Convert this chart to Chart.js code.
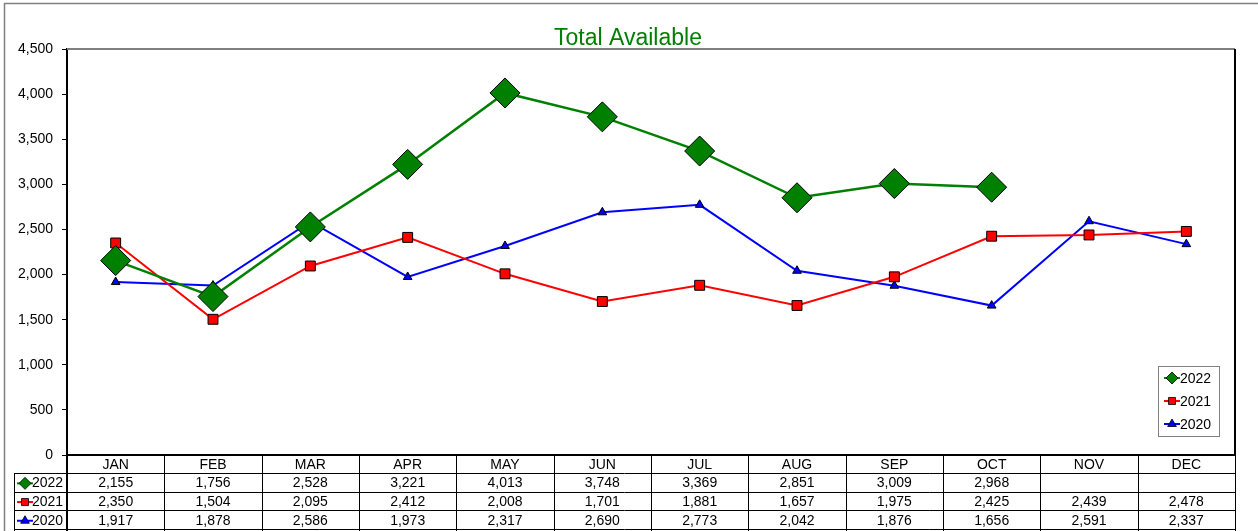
<!DOCTYPE html>
<html>
<head>
<meta charset="utf-8">
<script src="https://cdn.jsdelivr.net/npm/chart.js@4"></script>
<style>
  html, body { margin: 0; padding: 0; background: #fff; }
  canvas { display: block; }
</style>
</head>
<body>
<canvas id="grafico" width="1258" height="531"></canvas>
<script>
var meses = ['JAN', 'FEB', 'MAR', 'APR', 'MAY', 'JUN', 'JUL', 'AUG', 'SEP', 'OCT', 'NOV', 'DEC'];
var anos = ['2022', '2021', '2020'];
var total2022 = [2155, 1756, 2528, 3221, 4013, 3748, 3369, 2851, 3009, 2968, null, null];
var total2021 = [2350, 1504, 2095, 2412, 2008, 1701, 1881, 1657, 1975, 2425, 2439, 2478];
var total2020 = [1917, 1878, 2586, 1973, 2317, 2690, 2773, 2042, 1876, 1656, 2591, 2337];
var yTicks = [0, 500, 1000, 1500, 2000, 2500, 3000, 3500, 4000, 4500];

var fonte = '"Liberation Sans", Arial, sans-serif';
var cores = ['#008000', '#ff0000', '#0000ff'];
var estilos = ['rectRot', 'rect', 'triangle'];
var raios = [15, 7, 5];
var series = [total2022, total2021, total2020];

function fmt(v) {
    if (v === null || v === undefined) return '';
    return v.toLocaleString('en-US');
}

// desenha moldura, titulo, legenda e tabela de dados
var extras = {
    id: 'extras',
    beforeDraw: function (chart) {
        var ctx = chart.ctx;
        ctx.save();
        ctx.fillStyle = '#fff';
        ctx.fillRect(0, 0, chart.width, chart.height);
        ctx.strokeStyle = '#808080';
        ctx.lineWidth = 1.5;
        ctx.beginPath();
        ctx.moveTo(4.5, chart.height);
        ctx.lineTo(4.5, 3.5);
        ctx.lineTo(chart.width, 3.5);
        ctx.stroke();
        ctx.restore();
    },
    afterDraw: function (chart) {
        var ctx = chart.ctx;
        var area = chart.chartArea;
        var x = chart.scales.x;
        ctx.save();

        // bordas do grafico
        ctx.strokeStyle = '#808080';
        ctx.lineWidth = 2;
        ctx.beginPath();
        ctx.moveTo(area.left, area.top);
        ctx.lineTo(area.right, area.top);
        ctx.stroke();
        ctx.strokeStyle = '#000';
        ctx.lineWidth = 2;
        ctx.beginPath();
        ctx.moveTo(area.right, area.top);
        ctx.lineTo(area.right, area.bottom);
        ctx.moveTo(area.left - 1, area.bottom);
        ctx.lineTo(area.right + 1, area.bottom);
        ctx.stroke();

        // titulo
        ctx.fillStyle = '#008000';
        ctx.font = '23px ' + fonte;
        ctx.textAlign = 'center';
        ctx.textBaseline = 'alphabetic';
        ctx.fillText('Total Available', 628, 45);

        // tabela
        var colW = (area.right - area.left) / meses.length;
        var rowTop = area.bottom;
        var hdrH = 18;
        var rowH = 18.7;
        var labelL = 14;
        ctx.strokeStyle = '#000';
        ctx.lineWidth = 1;
        ctx.beginPath();
        for (var k = 1; k <= meses.length; k++) {
            var cx = Math.round(area.left + k * colW) + 0.5;
            ctx.moveTo(cx, rowTop);
            ctx.lineTo(cx, chart.height);
        }
        ctx.moveTo(labelL + 0.5, rowTop + hdrH);
        ctx.lineTo(labelL + 0.5, chart.height);
        for (var r = 0; r <= anos.length; r++) {
            var ry = Math.round(rowTop + hdrH + r * rowH) + 0.5;
            ctx.moveTo(labelL, ry);
            ctx.lineTo(area.right, ry);
        }
        ctx.stroke();
        ctx.lineWidth = 2;
        ctx.beginPath();
        ctx.moveTo(area.left, rowTop);
        ctx.lineTo(area.left, chart.height);
        ctx.stroke();

        ctx.fillStyle = '#000';
        ctx.font = '14px ' + fonte;
        ctx.textAlign = 'center';
        ctx.textBaseline = 'middle';
        for (var i = 0; i < meses.length; i++) {
            var px = x.getPixelForValue(i);
            ctx.fillText(meses[i], px, rowTop + hdrH / 2 + 1);
            for (var s = 0; s < series.length; s++) {
                ctx.fillText(fmt(series[s][i]), px, rowTop + hdrH + s * rowH + rowH / 2 + 1);
            }
        }
        for (var s2 = 0; s2 < anos.length; s2++) {
            var yy = rowTop + hdrH + s2 * rowH + rowH / 2 + 1;
            desenhaAmostra(ctx, s2, labelL + 3, yy, 2);
            ctx.fillStyle = '#000';
            ctx.textAlign = 'left';
            ctx.fillText(anos[s2], labelL + 18, yy);
        }

        // legenda
        var lx = 1158, ly = 366, lw = 61, lh = 70;
        ctx.fillStyle = '#fff';
        ctx.fillRect(lx, ly, lw, lh);
        ctx.strokeStyle = '#808080';
        ctx.lineWidth = 1;
        ctx.strokeRect(lx + 0.5, ly + 0.5, lw, lh);
        for (var s3 = 0; s3 < anos.length; s3++) {
            var ly2 = ly + 12 + s3 * 23;
            desenhaAmostra(ctx, s3, lx + 6, ly2, 2);
            ctx.fillStyle = '#000';
            ctx.font = '14px ' + fonte;
            ctx.textAlign = 'left';
            ctx.textBaseline = 'middle';
            ctx.fillText(anos[s3], lx + 22, ly2 + 1);
        }
        ctx.restore();
    }
};

function desenhaAmostra(ctx, s, x0, y, lw) {
    ctx.strokeStyle = cores[s];
    ctx.lineWidth = lw;
    ctx.beginPath();
    ctx.moveTo(x0, y);
    ctx.lineTo(x0 + 16, y);
    ctx.stroke();
    ctx.fillStyle = cores[s];
    ctx.strokeStyle = '#000';
    ctx.lineWidth = 0.8;
    Chart.helpers.drawPoint(ctx, {
        pointStyle: estilos[s],
        radius: s === 0 ? 6 : 5,
        borderWidth: 0.8
    }, x0 + 8, y);
}

var datasets = [];
for (var d = 0; d < anos.length; d++) {
    datasets.push({
        label: anos[d],
        data: series[d],
        borderColor: cores[d],
        backgroundColor: cores[d],
        borderWidth: d === 0 ? 2.5 : 2,
        pointStyle: estilos[d],
        pointRadius: raios[d],
        pointBorderColor: '#000',
        pointBorderWidth: 1,
        pointBackgroundColor: cores[d],
        tension: 0,
        spanGaps: false
    });
}

var grafico = new Chart(document.getElementById('grafico').getContext('2d'), {
    type: 'line',
    data: { labels: meses, datasets: datasets },
    plugins: [extras],
    options: {
        responsive: false,
        animation: false,
        devicePixelRatio: 1,
        layout: { padding: { left: 0, top: 49, right: 23, bottom: 76 } },
        plugins: {
            legend: { display: false },
            title: { display: false },
            tooltip: { enabled: false }
        },
        scales: {
            x: {
                display: false,
                offset: true
            },
            y: {
                min: 0,
                max: 4500,
                afterFit: function (scale) { scale.width = 67; },
                afterBuildTicks: function (scale) {
                    scale.ticks = yTicks.map(function (v) { return { value: v }; });
                },
                ticks: {
                    color: '#000',
                    padding: 9,
                    font: { family: fonte, size: 14 },
                    callback: function (v) { return fmt(v); }
                },
                grid: {
                    drawOnChartArea: false,
                    drawTicks: true,
                    tickLength: 5,
                    color: '#000'
                },
                border: { display: true, color: '#000', width: 2 }
            }
        }
    }
});
</script>
</body>
</html>
